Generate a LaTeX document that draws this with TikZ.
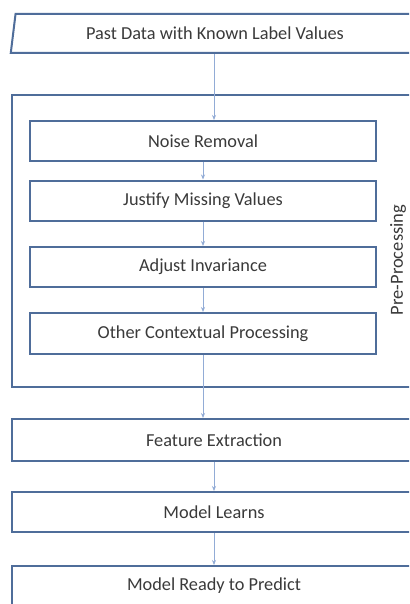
\documentclass[tikz,border=0pt]{standalone}
\usepackage{fontspec}
\setmainfont{Carlito}
\usetikzlibrary{arrows.meta,shapes.geometric}
\definecolor{boxline}{RGB}{79,109,154}
\definecolor{flowline}{RGB}{146,172,214}
\definecolor{textgray}{RGB}{58,58,58}

\begin{document}
\begin{tikzpicture}[x=1pt,y=-1pt,
  box/.style={draw=boxline, line width=2pt, fill=white, text=textgray, inner sep=0pt},
  wide/.style={box, minimum width=404pt, minimum height=40pt},
  inner/.style={box, minimum width=346pt, minimum height=40pt},
  flow/.style={draw=flowline, line width=0.9pt, -{Stealth[length=5pt,width=4pt]}},
  font=\fontsize{18.3}{22}\selectfont]
  \clip (0,0) rectangle (409,604);
  \fill[white] (0,0) rectangle (409,604);
  % input data
  \node[box, trapezium, trapezium left angle=77, trapezium right angle=90,
    trapezium stretches=true, minimum width=410pt, minimum height=39pt] (past) at (218,33.5)
    {\hspace*{-6pt}Past Data with Known Label Values};
  % pre-processing block
  \node[wide, minimum height=292pt] (pre) at (214,241) {};
  \node[rotate=90, text=textgray, inner sep=0pt, font=\fontsize{18.5}{22}\selectfont] (prelabel) at (398,260) {Pre-Processing};
  \node[inner] (noise) at (203,141) {Noise Removal};
  \node[inner] (justify) at (203,200.5) {Justify Missing Values};
  \node[inner] (adjust) at (203,267) {Adjust Invariance};
  \node[inner, minimum height=41pt] (other) at (203,333.5) {Other Contextual Processing};
  % learning
  \node[wide, minimum height=42pt] (feature) at (214,440) {Feature Extraction};
  \node[wide] (learns) at (214,512) {Model Learns};
  \node[wide] (ready) at (214,586) {Model Ready to Predict};

  \draw[flow] ([xshift=-4pt]past.south) -- ([xshift=-4pt]past.south |- noise.north);
  \draw[flow] (noise) -- (justify);
  \draw[flow] (justify) -- (adjust);
  \draw[flow] (adjust) -- (other);
  \draw[flow] (other.south) -- (other.south |- feature.north);
  \draw[flow] (feature) -- (learns);
  \draw[flow] (learns) -- (ready);
\end{tikzpicture}
\end{document}
